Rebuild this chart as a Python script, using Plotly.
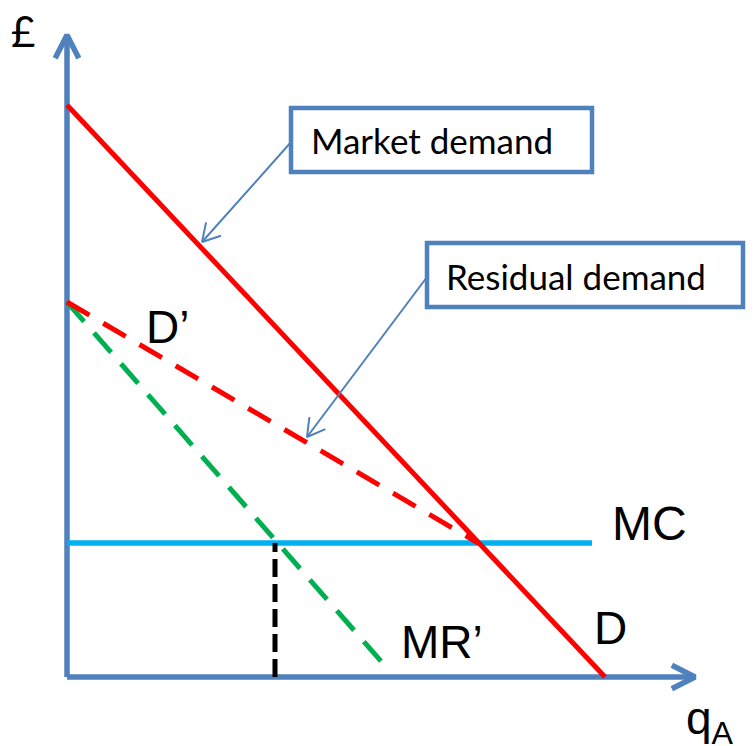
import math
import plotly.graph_objects as go

# ---- data (quantity, price) in chart units ----
q_market = [0, 538]
p_market = [572, 0]
q_resid = [0, 411]
p_resid = [375, 134]
q_mr = [0, 320]
p_mr = [375, 9]
q_mc = [0, 525]
p_mc = [134, 134]
q_star = [208, 208]
p_star = [0, 134]

# axes extents
y_axis_top = 642
x_axis_right = 628

# callout boxes [x0, x1, y0, y1]
box_market = [224, 525, 505, 569]
box_resid = [360, 676, 370, 434]
# leader lines [start, tip]
lead_market = [(225, 536), (135, 435)]
lead_resid = [(360, 400), (240, 240)]

BLUE = "#4F81BD"
RED = "#FF0000"
GREEN = "#00B050"
MCBLUE = "#00B0F0"

fig = go.Figure()


def line(x, y, color, width, dash="solid"):
    fig.add_trace(go.Scatter(x=x, y=y, mode="lines",
                             line=dict(color=color, width=width, dash=dash),
                             hoverinfo="skip"))


def chevron(start, tip, length, half_angle_deg):
    dx, dy = tip[0] - start[0], tip[1] - start[1]
    n = math.hypot(dx, dy)
    ux, uy = -dx / n, -dy / n
    pts = []
    for s in (1, -1):
        a = math.radians(half_angle_deg) * s
        rx = ux * math.cos(a) - uy * math.sin(a)
        ry = ux * math.sin(a) + uy * math.cos(a)
        pts.append((tip[0] + rx * length, tip[1] + ry * length))
    return [pts[0][0], tip[0], pts[1][0]], [pts[0][1], tip[1], pts[1][1]]


# axes
line([0, 0], [0, y_axis_top], BLUE, 5.5)
line([0, x_axis_right], [0, 0], BLUE, 5.5)
cx, cy = chevron((0, 0), (0, y_axis_top), 26, 27)
line(cx, cy, BLUE, 5.5)
cx, cy = chevron((0, 0), (x_axis_right, 0), 26, 27)
line(cx, cy, BLUE, 5.5)

# curves
line(q_mc, p_mc, MCBLUE, 5.5)
line(q_star, p_star, "black", 5, "18px,7px")
line(q_mr, p_mr, GREEN, 5, "26px,15px")
line(q_resid, p_resid, RED, 5, "26px,16px")
line(q_market, p_market, RED, 5)

# leader lines
for start, tip in (lead_market, lead_resid):
    line([start[0], tip[0]], [start[1], tip[1]], BLUE, 2)
    cx, cy = chevron(start, tip, 20, 30)
    line(cx, cy, BLUE, 2)

shapes = []
for b in (box_market, box_resid):
    shapes.append(dict(type="rect", xref="x", yref="y", x0=b[0], x1=b[1], y0=b[2], y1=b[3],
                       line=dict(color=BLUE, width=4.5), fillcolor="white", layer="above"))

LF = "Liberation Sans, Arial, sans-serif"
BF = "Lato, Open Sans, sans-serif"
ann = [
    dict(text="£", x=-58, y=646, font=dict(family=BF, size=42)),
    dict(text="D’", x=77, y=350, font=dict(family=LF, size=46)),
    dict(text="MC", x=543, y=154, font=dict(family=LF, size=48)),
    dict(text="D", x=525, y=49, font=dict(family=LF, size=46)),
    dict(text="MR’", x=332, y=35, font=dict(family=LF, size=46)),
    dict(text="q<sub>A</sub>", x=617, y=-44, font=dict(family=LF, size=46)),
    dict(text="Market demand", x=242, y=537, font=dict(family=BF, size=35)),
    dict(text="Residual demand", x=377, y=401, font=dict(family=BF, size=35)),
]
annotations = []
for a in ann:
    a.update(xref="x", yref="y", showarrow=False, xanchor="left", yanchor="middle")
    a["font"]["color"] = "black"
    annotations.append(a)

fig.update_layout(
    width=754, height=746, autosize=False,
    margin=dict(l=0, r=0, t=0, b=0),
    paper_bgcolor="white", plot_bgcolor="white",
    showlegend=False,
    xaxis=dict(range=[-59, 695], visible=False, fixedrange=True),
    yaxis=dict(range=[-77, 669], visible=False, fixedrange=True),
    shapes=shapes,
    annotations=annotations,
)

fig.write_html("out.html")
